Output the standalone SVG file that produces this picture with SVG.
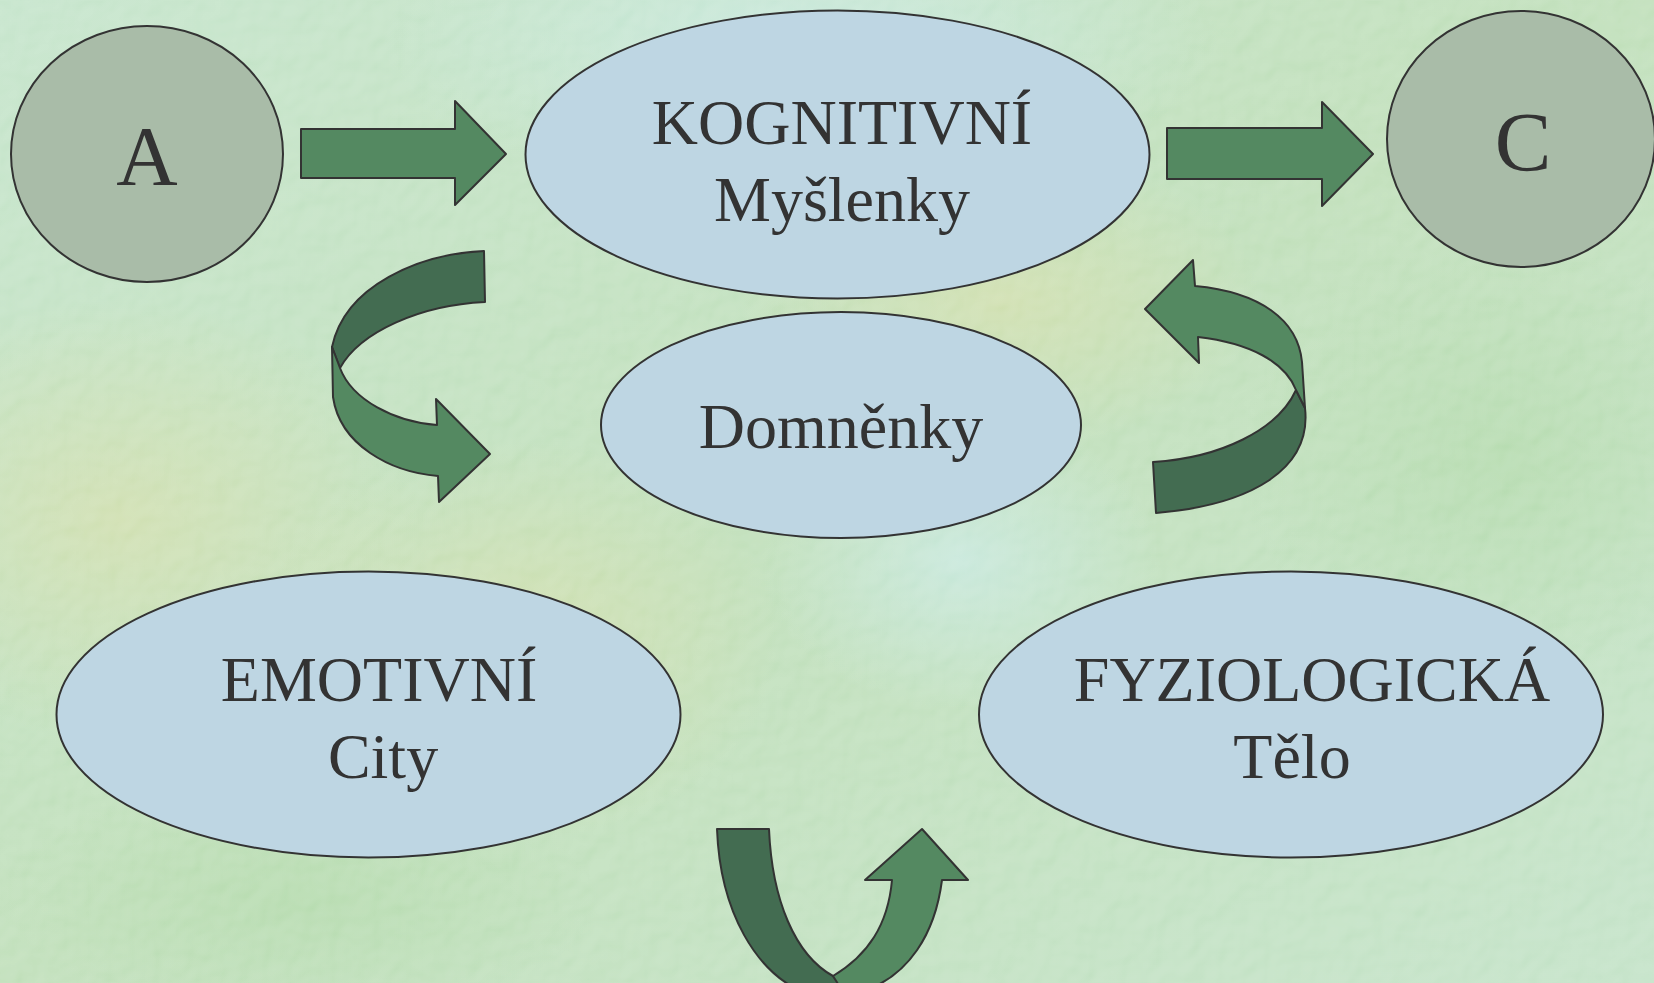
<svg xmlns="http://www.w3.org/2000/svg" width="1654" height="983" viewBox="0 0 1654 983">
<style>
.bg-rect{fill:url(#bgGrad)}
.circle{fill:#a9bca8;stroke:#333;stroke-width:2}
.oval{fill:#bed6e3;stroke:#333;stroke-width:2}
.lbl{font-family:"Liberation Serif","Times New Roman",serif;fill:#333;text-anchor:middle;font-size:64px}
.big{font-size:85px}
.arrow-light{fill:#548961;stroke:#333;stroke-width:2;stroke-linejoin:round}
.arrow-dark{fill:#436c51;stroke:#333;stroke-width:2;stroke-linejoin:round}
</style>
<defs>
<linearGradient id="bgGrad" x1="0" y1="0" x2="1" y2="1">
<stop offset="0" stop-color="#bfe2c6"/>
<stop offset="0.5" stop-color="#b9dcb2"/>
<stop offset="1" stop-color="#bde0c2"/>
</linearGradient>
<radialGradient id="blobY" cx="0.5" cy="0.5" r="0.5">
<stop offset="0" stop-color="#cfdca4" stop-opacity="0.8"/>
<stop offset="1" stop-color="#cfdca4" stop-opacity="0"/>
</radialGradient>
<radialGradient id="blobC" cx="0.5" cy="0.5" r="0.5">
<stop offset="0" stop-color="#c4e8e0" stop-opacity="0.8"/>
<stop offset="1" stop-color="#c4e8e0" stop-opacity="0"/>
</radialGradient>
<radialGradient id="blobG" cx="0.5" cy="0.5" r="0.5">
<stop offset="0" stop-color="#a9d6a0" stop-opacity="0.7"/>
<stop offset="1" stop-color="#a9d6a0" stop-opacity="0"/>
</radialGradient>
<filter id="emboss" x="0" y="0" width="1654" height="983" filterUnits="userSpaceOnUse">
<feTurbulence type="fractalNoise" baseFrequency="0.045" numOctaves="2" seed="7" result="n"/>
<feDiffuseLighting in="n" surfaceScale="4" diffuseConstant="1" lighting-color="#ffffff">
<feDistantLight azimuth="235" elevation="55"/>
</feDiffuseLighting>
</filter>
</defs>
<g id="background">
<rect class="bg-rect" x="0" y="0" width="1654" height="983"/>
<ellipse cx="800" cy="40" rx="420" ry="160" fill="url(#blobC)"/>
<ellipse cx="120" cy="520" rx="300" ry="220" fill="url(#blobY)"/>
<ellipse cx="520" cy="640" rx="260" ry="200" fill="url(#blobY)"/>
<ellipse cx="960" cy="560" rx="200" ry="150" fill="url(#blobC)"/>
<ellipse cx="1500" cy="460" rx="260" ry="220" fill="url(#blobG)"/>
<ellipse cx="1000" cy="300" rx="260" ry="150" fill="url(#blobY)"/>
<ellipse cx="300" cy="900" rx="300" ry="120" fill="url(#blobG)"/>
<rect x="0" y="0" width="1654" height="983" filter="url(#emboss)" opacity="0.22" style="mix-blend-mode:overlay"/>
</g>
<g id="connectors">
<path id="arrow-a-k" class="arrow-light" d="M301,129 L455,129 L455,101 L506,154 L455,205 L455,178 L301,178 Z"/>
<path id="arrow-k-c" class="arrow-light" d="M1167,128 L1322,128 L1322,102 L1373,154 L1322,206 L1322,179 L1167,179 Z"/>
<g id="arrow-k-domnenky">
<path class="arrow-dark" d="M484,251 C420,254 345,285 332,347 L340,368 C360,332 420,305 485,302 Z"/>
<path class="arrow-light" d="M332,347 L333,397 C340,445 390,472 438,476 L439,502 L490,454 L436,399 L437,425 C395,422 352,400 340,368 Z"/>
</g>
<g id="arrow-fyzio-k">
<path class="arrow-dark" d="M1296,390 L1305,408 C1312,470 1250,505 1156,513 L1153,462 C1220,458 1278,430 1296,390 Z"/>
<path class="arrow-light" d="M1305,408 L1302,362 C1298,320 1260,292 1195,286 L1193,260 L1145,309 L1199,363 L1198,337 C1250,343 1285,362 1296,390 Z"/>
</g>
<g id="arrow-emotiv-fyzio">
<path class="arrow-dark" d="M717,829 L769,829 C772,900 795,955 833,976 L850,995 L810,995 C755,975 720,910 717,829 Z"/>
<path class="arrow-light" d="M833,976 C868,955 888,925 892,880 L865,880 L922,829 L968,880 L942,880 C935,935 908,975 866,990 L845,995 Z"/>
</g>
</g>
<g id="node-a">
<ellipse class="circle" cx="147" cy="154" rx="136" ry="128"/>
<text class="lbl big" x="147" y="185">A</text>
</g>
<g id="node-c">
<ellipse class="circle" cx="1521" cy="139" rx="134" ry="128"/>
<text class="lbl big" x="1523" y="171">C</text>
</g>
<g id="node-kognitivni">
<ellipse class="oval" cx="837.5" cy="154.5" rx="312" ry="144"/>
<text class="lbl" x="842" y="144">KOGNITIVNÍ</text>
<text class="lbl" x="842" y="221">Myšlenky</text>
</g>
<g id="node-domnenky">
<ellipse class="oval" cx="841" cy="425" rx="240" ry="113"/>
<text class="lbl" x="841" y="448">Domněnky</text>
</g>
<g id="node-emotivni">
<ellipse class="oval" cx="368.5" cy="714.5" rx="312" ry="143"/>
<text class="lbl" x="379" y="701">EMOTIVNÍ</text>
<text class="lbl" x="383" y="778">City</text>
</g>
<g id="node-fyziologicka">
<ellipse class="oval" cx="1291" cy="714.5" rx="312" ry="143"/>
<text class="lbl" x="1312" y="701">FYZIOLOGICKÁ</text>
<text class="lbl" x="1292" y="778">Tělo</text>
</g>
</svg>
